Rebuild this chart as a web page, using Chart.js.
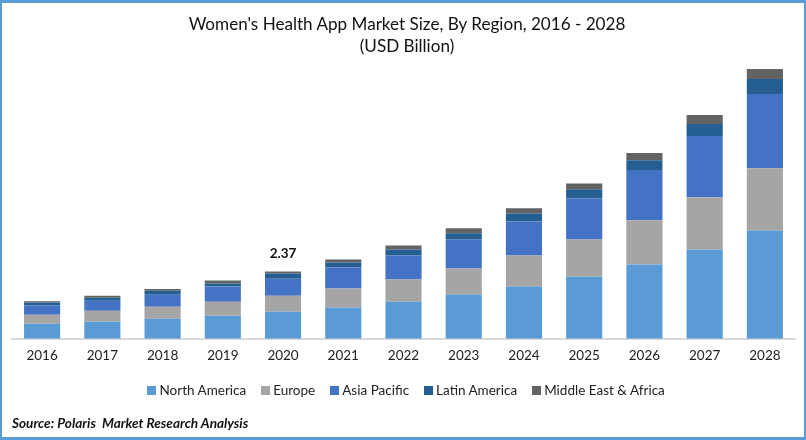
<!DOCTYPE html>
<html>
<head>
<meta charset="utf-8">
<title>Women's Health App Market Size</title>
<script src="https://cdn.jsdelivr.net/npm/chart.js@4"></script>
<style>
  html, body { margin: 0; padding: 0; background: #fff; }
  #frame { position: relative; width: 806px; height: 440px; overflow: hidden; }
  #frame::after { content: ""; position: absolute; inset: 0; box-sizing: border-box; border: solid #5B9BD5; border-width: 3px 2px 3px 2px; pointer-events: none; }
  canvas { position: absolute; left: 0; top: 0; }
  #titulo { position: absolute; left: 4px; width: 806px; top: 13px; text-align: center; font: 17.1px/22px Lato, sans-serif; color: #111; }
  #legenda { position: absolute; left: 147px; top: 381px; display: flex; font: 13.5px/18px Lato, sans-serif; color: #222; white-space: nowrap; }
  #legenda span.item { display: flex; align-items: center; margin-right: 14.5px; }
  #legenda i { display: block; width: 9px; height: 9px; margin-right: 3.5px; }
  #source { position: absolute; left: 12px; top: 415px; font: italic bold 13.6px Lato, sans-serif; color: #111; }
</style>
</head>
<body>
<div id="frame">
  <canvas id="grafico" width="806" height="440"></canvas>
  <div id="titulo">Women's Health App Market Size, By Region, 2016 - 2028<br>(USD Billion)</div>
  <div id="legenda"></div>
  <div id="source">Source: Polaris&nbsp; Market Research Analysis</div>
</div>
<script>
const years = ["2016", "2017", "2018", "2019", "2020", "2021", "2022", "2023", "2024", "2025", "2026", "2027", "2028"];
const northAmerica = [0.53, 0.60, 0.71, 0.81, 0.95, 1.10, 1.31, 1.56, 1.84, 2.19, 2.62, 3.15, 3.82];
const europe = [0.32, 0.39, 0.42, 0.50, 0.57, 0.67, 0.78, 0.92, 1.10, 1.31, 1.56, 1.84, 2.19];
const asiaPacific = [0.32, 0.35, 0.42, 0.53, 0.60, 0.74, 0.85, 1.03, 1.20, 1.45, 1.77, 2.16, 2.62];
const latinAmerica = [0.11, 0.11, 0.14, 0.11, 0.18, 0.18, 0.21, 0.21, 0.28, 0.32, 0.35, 0.42, 0.53];
const middleEast = [0.04, 0.07, 0.07, 0.11, 0.07, 0.11, 0.14, 0.18, 0.18, 0.21, 0.25, 0.32, 0.35];
const totalLabel = "2.37";
const totalIndex = 4;

function serie(label, data, color) {
  return { label, data, backgroundColor: color, borderWidth: 0, categoryPercentage: 1, barPercentage: 0.6 };
}

// rotulo do total so em 2020
const totalPlugin = {
  id: "totalPlugin",
  afterDatasetsDraw(chart) {
    const { ctx, scales } = chart;
    const meta = chart.getDatasetMeta(4).data[totalIndex];
    ctx.save();
    ctx.font = "bold 13.5px Lato, sans-serif";
    ctx.fillStyle = "#111";
    ctx.textAlign = "center";
    ctx.fillText(totalLabel, scales.x.getPixelForValue(totalIndex), meta.y - 14);
    ctx.restore();
  },
};

const chart = new Chart(document.getElementById("grafico"), {
  type: "bar",
  data: {
    labels: years,
    datasets: [
      serie("North America", northAmerica, "#5B9BD5"),
      serie("Europe", europe, "#A5A5A5"),
      serie("Asia Pacific", asiaPacific, "#4472C4"),
      serie("Latin America", latinAmerica, "#255E91"),
      serie("Middle East & Africa", middleEast, "#636363"),
    ],
  },
  options: {
    responsive: false,
    animation: false,
    layout: { padding: { left: 12, right: 11, top: 62, bottom: 67 } },
    plugins: {
      legend: { display: false },
      tooltip: { enabled: false },
    },
    scales: {
      x: {
        stacked: true,
        grid: { display: false, drawTicks: false },
        border: { color: "#D9D9D9", width: 2 },
        ticks: { color: "#222", padding: 9, maxRotation: 0, font: { family: "Lato, sans-serif", size: 13.5 } },
      },
      y: { stacked: true, display: false, min: 0, max: 9.76 },
    },
  },
  plugins: [totalPlugin],
});

// legenda em html, a partir dos datasets
const legenda = document.getElementById("legenda");
chart.data.datasets.forEach((ds) => {
  const item = document.createElement("span");
  item.className = "item";
  const box = document.createElement("i");
  box.style.background = ds.backgroundColor;
  item.appendChild(box);
  item.appendChild(document.createTextNode(ds.label));
  legenda.appendChild(item);
});
</script>
</body>
</html>
